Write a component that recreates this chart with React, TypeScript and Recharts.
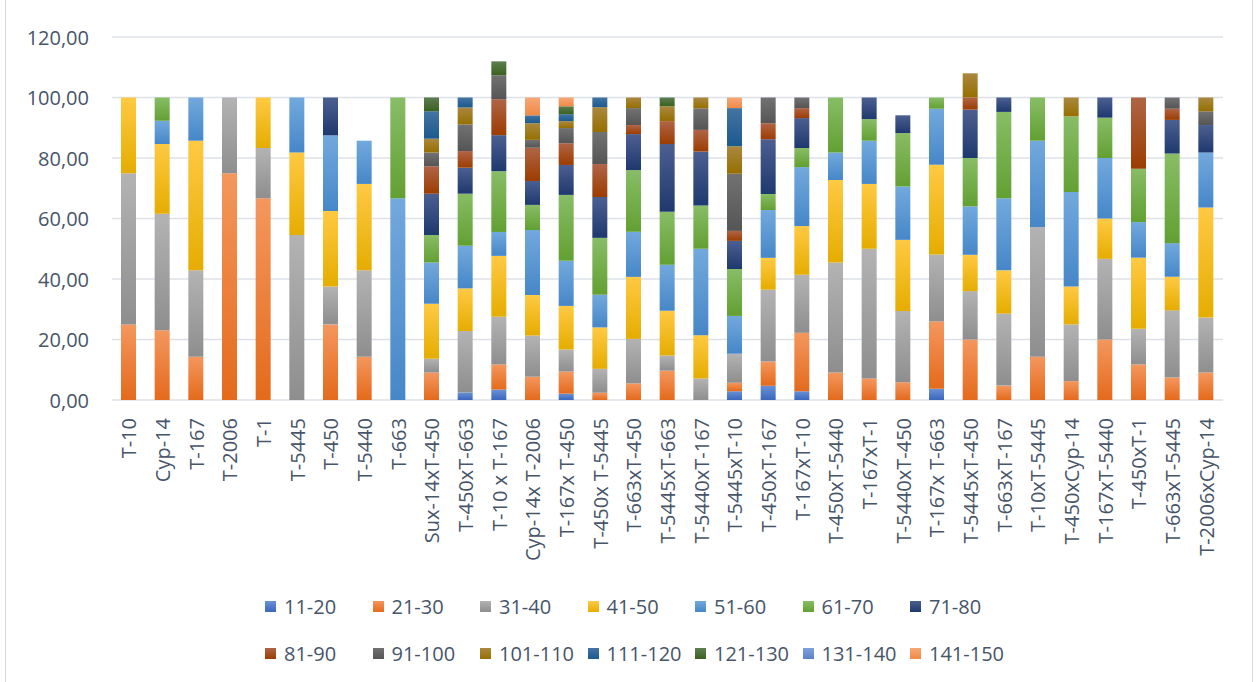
import { BarChart, Bar, XAxis, YAxis, CartesianGrid, Legend } from "recharts";

const categories = [
  "T-10", "Cyp-14", "T-167", "T-2006", "T-1", "T-5445", "T-450", "T-5440", "T-663",
  "Sux-14xT-450", "T-450xT-663", "T-10 x T-167", "Cyp-14x T-2006", "T-167x T-450",
  "T-450x T-5445", "T-663xT-450", "T-5445xT-663", "T-5440xT-167", "T-5445xT-10",
  "T-450xT-167", "T-167xT-10", "T-450xT-5440", "T-167xT-1", "T-5440xT-450",
  "T-167x T-663", "T-5445xT-450", "T-663xT-167", "T-10xT-5445", "T-450xCyp-14",
  "T-167xT-5440", "T-450xT-1", "T-663xT-5445", "T-2006xCyp-14",
];

// one array per size class, one value per category (0 = absent)
const s11_20 = [0, 0, 0, 0, 0, 0, 0, 0, 0, 0, 2.5, 3.45, 0, 2.1, 0, 0, 0, 0, 2.9, 4.7, 2.9, 0, 0, 0, 3.7, 0, 0, 0, 0, 0, 0, 0, 0];
const s21_30 = [25, 23.08, 14.29, 75, 66.67, 0, 25, 14.29, 0, 9.09, 0, 8.3, 7.7, 7.3, 2.4, 5.5, 9.7, 0, 2.8, 8.0, 19.3, 9.09, 7.14, 5.88, 22.22, 20, 4.76, 14.29, 6.25, 20, 11.76, 7.41, 9.09];
const s31_40 = [50, 38.46, 28.57, 25, 16.67, 54.55, 12.5, 28.57, 0, 4.55, 20.3, 15.8, 13.6, 7.3, 7.9, 14.7, 5.0, 7.14, 9.6, 23.8, 19.2, 36.36, 42.86, 23.53, 22.22, 16, 23.81, 42.86, 18.75, 26.67, 11.76, 22.22, 18.18];
const s41_50 = [25, 23.08, 42.86, 0, 16.67, 27.27, 25, 28.57, 0, 18.18, 14.1, 20.1, 13.4, 14.4, 13.7, 20.5, 14.8, 14.29, 0, 10.5, 16.1, 27.27, 21.43, 23.53, 29.63, 12, 14.29, 0, 12.5, 13.33, 23.53, 11.11, 36.36];
const s51_60 = [0, 7.69, 14.29, 0, 0, 18.18, 25, 14.29, 66.67, 13.64, 14.1, 7.9, 21.5, 14.9, 10.8, 14.9, 15.2, 28.57, 12.5, 15.8, 19.5, 9.09, 14.29, 17.65, 18.52, 16, 23.81, 28.57, 31.25, 20, 11.76, 11.11, 18.18];
const s61_70 = [0, 7.69, 0, 0, 0, 0, 0, 0, 33.33, 9.09, 17.2, 20.1, 8.3, 21.8, 18.8, 20.4, 17.5, 14.29, 15.5, 5.3, 6.3, 18.18, 7.14, 17.65, 3.7, 16, 28.57, 14.29, 25, 13.33, 17.65, 29.63, 0];
const s71_80 = [0, 0, 0, 0, 0, 0, 12.5, 0, 0, 13.64, 8.6, 11.9, 7.9, 9.9, 13.5, 11.9, 22.4, 17.86, 9.3, 18.1, 9.9, 0, 7.14, 5.88, 0, 16, 4.76, 0, 0, 6.67, 0, 11.11, 9.09];
const s81_90 = [0, 0, 0, 0, 0, 0, 0, 0, 0, 9.09, 5.5, 11.9, 11.0, 7.2, 10.9, 3.0, 7.6, 7.14, 3.3, 5.3, 3.3, 0, 0, 0, 0, 4, 0, 0, 0, 0, 23.53, 3.7, 0];
const s91_100 = [0, 0, 0, 0, 0, 0, 0, 0, 0, 4.55, 8.8, 7.9, 2.6, 5.0, 10.6, 5.6, 0, 7.14, 18.9, 8.5, 3.5, 0, 0, 0, 0, 0, 0, 0, 0, 0, 0, 3.7, 4.55];
const s101_110 = [0, 0, 0, 0, 0, 0, 0, 0, 0, 4.55, 5.6, 0, 5.5, 2.3, 8.2, 3.5, 4.9, 3.57, 9.1, 0, 0, 0, 0, 0, 0, 8, 0, 0, 6.25, 0, 0, 0, 4.55];
const s111_120 = [0, 0, 0, 0, 0, 0, 0, 0, 0, 9.09, 3.3, 0, 2.6, 2.3, 3.2, 0, 0, 0, 12.6, 0, 0, 0, 0, 0, 0, 0, 0, 0, 0, 0, 0, 0, 0];
const s121_130 = [0, 0, 0, 0, 0, 0, 0, 0, 0, 4.55, 0, 4.6, 0, 2.6, 0, 0, 2.9, 0, 0, 0, 0, 0, 0, 0, 0, 0, 0, 0, 0, 0, 0, 0, 0];
const s131_140 = [0, 0, 0, 0, 0, 0, 0, 0, 0, 0, 0, 0, 0, 0, 0, 0, 0, 0, 0, 0, 0, 0, 0, 0, 0, 0, 0, 0, 0, 0, 0, 0, 0];
const s141_150 = [0, 0, 0, 0, 0, 0, 0, 0, 0, 0, 0, 0, 5.9, 2.9, 0, 0, 0, 0, 3.5, 0, 0, 0, 0, 0, 0, 0, 0, 0, 0, 0, 0, 0, 0];

const seriesNames = [
  "11-20", "21-30", "31-40", "41-50", "51-60", "61-70", "71-80",
  "81-90", "91-100", "101-110", "111-120", "121-130", "131-140", "141-150",
];
const seriesValues = [
  s11_20, s21_30, s31_40, s41_50, s51_60, s61_70, s71_80,
  s81_90, s91_100, s101_110, s111_120, s121_130, s131_140, s141_150,
];
const yTicks = [0, 20, 40, 60, 80, 100, 120];

// excel-ish gradient fills: [top, bottom]
const fills: [string, string][] = [
  ["#6A91D6", "#3A66BC"],
  ["#F4975E", "#E46A1C"],
  ["#B3B3B3", "#8E8E8E"],
  ["#FFC943", "#E5AD00"],
  ["#72A9DD", "#4687C8"],
  ["#88BD66", "#62A032"],
  ["#4C5F91", "#1E396E"],
  ["#B06446", "#9C3D00"],
  ["#727272", "#555555"],
  ["#AA8840", "#966F00"],
  ["#4474A2", "#1B5A8F"],
  ["#5E7E50", "#3A611F"],
  ["#7FA2DB", "#5A80C9"],
  ["#F6A877", "#F08A45"],
];

const FONT = "'Open Sans', 'Noto Sans', sans-serif";
const TEXT = "#475569";

const data = categories.map((name, i) => {
  const row: Record<string, string | number> = { name };
  seriesNames.forEach((s, k) => {
    row[s] = seriesValues[k][i];
  });
  return row;
});

function XTick({ x, y, payload }: any) {
  return (
    <text
      transform={`translate(${x},${y + 10}) rotate(-90)`}
      textAnchor="end"
      dominantBaseline="central"
      fill={TEXT}
      fontSize={20}
      fontFamily={FONT}
    >
      {payload.value}
    </text>
  );
}

function YTick({ x, y, payload }: any) {
  return (
    <text
      x={x - 15}
      y={y}
      textAnchor="end"
      dominantBaseline="central"
      fill={TEXT}
      fontSize={20}
      fontFamily={FONT}
    >
      {Number(payload.value).toFixed(2).replace(".", ",")}
    </text>
  );
}

function LegendBox() {
  const rows = [seriesNames.slice(0, 7), seriesNames.slice(7)];
  return (
    <div style={{ height: 110, paddingTop: 10.5, boxSizing: "border-box" }}>
      {rows.map((row, r) => (
        <div key={r} style={{ display: "flex", height: 47, alignItems: "center", paddingLeft: 265 }}>
          {row.map((name) => {
            const k = seriesNames.indexOf(name);
            return (
              <div key={name} style={{ width: 107.5, display: "flex", alignItems: "center" }}>
                <span
                  style={{
                    width: 11,
                    height: 11,
                    marginRight: 8,
                    background: `linear-gradient(${fills[k][0]}, ${fills[k][1]})`,
                  }}
                />
                <span style={{ fontFamily: FONT, fontSize: 20, color: TEXT, whiteSpace: "nowrap" }}>{name}</span>
              </div>
            );
          })}
        </div>
      ))}
    </div>
  );
}

export default function App() {
  return (
    <div style={{ position: "absolute", left: 0, top: 0, width: 1259, height: 682, background: "#fff" }}>
      <div
        style={{
          position: "absolute",
          left: 5,
          top: -2,
          width: 1246,
          height: 684,
          borderLeft: "1px solid #D9D9D9",
          borderRight: "1px solid #D9D9D9",
        }}
      />
      <BarChart width={1259} height={682} data={data} margin={{ top: 37, right: 36, left: 0, bottom: 0 }}>
        <defs>
          {fills.map(([a, b], k) => (
            <linearGradient key={k} id={`grad${k}`} x1="0" y1="0" x2="0" y2="1">
              <stop offset="0%" stopColor={a} />
              <stop offset="100%" stopColor={b} />
            </linearGradient>
          ))}
        </defs>
        <CartesianGrid vertical={false} stroke="#DDE1E7" strokeWidth={1.3} />
        <XAxis
          dataKey="name"
          interval={0}
          height={172}
          tick={<XTick />}
          tickLine={false}
          axisLine={false}
        />
        <YAxis
          width={112}
          domain={[0, 120]}
          ticks={yTicks}
          tick={<YTick />}
          tickLine={false}
          axisLine={false}
        />
        <Legend
          verticalAlign="bottom"
          content={<LegendBox />}
          wrapperStyle={{ left: 0, width: 1259, height: 110 }}
        />
        {seriesNames.map((s, k) => (
          <Bar
            key={s}
            dataKey={s}
            stackId="a"
            barSize={15}
            fill={`url(#grad${k})`}
            isAnimationActive={false}
          />
        ))}
      </BarChart>
    </div>
  );
}
